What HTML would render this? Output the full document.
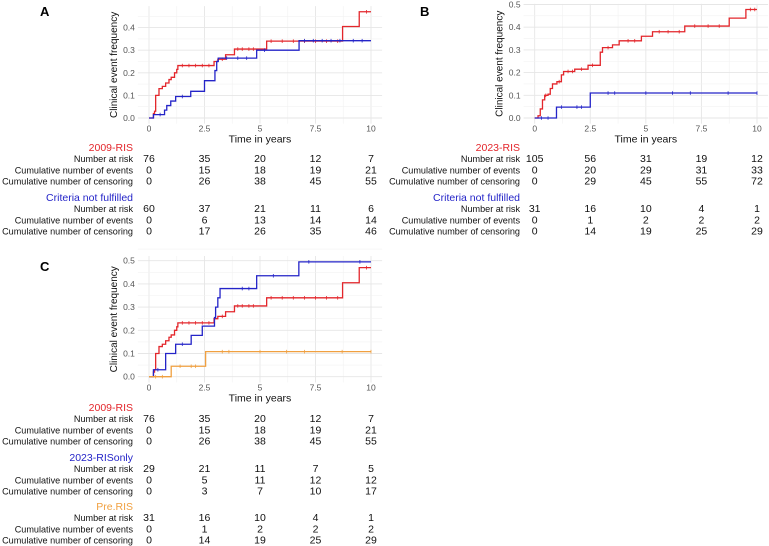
<!DOCTYPE html>
<html><head><meta charset="utf-8">
<style>
html,body{margin:0;padding:0;background:#fff;}
svg{display:block;font-family:"Liberation Sans",Arial,sans-serif;}
</style></head>
<body>
<svg id="fig" width="769" height="546" viewBox="0 0 769 546" xmlns="http://www.w3.org/2000/svg"></svg>
<script>
// ---- data ----
var xTicks = [0, 2.5, 5, 7.5, 10];
var xTickLabels = ["0", "2.5", "5", "7.5", "10"];
var yTicksA = [0, 0.1, 0.2, 0.3, 0.4];
var yTicksB = [0, 0.1, 0.2, 0.3, 0.4, 0.5];
var yTicksC = [0, 0.1, 0.2, 0.3, 0.4, 0.5];

var ris2009T = [0,0.2,0.25,0.3,0.45,0.6,0.75,0.9,1.0,1.15,1.25,1.3,2.93,3.1,3.45,3.85,5.3,8.72,9.47,10];
var ris2009V = [0,0.02,0.03,0.1,0.13,0.14,0.155,0.17,0.18,0.2,0.215,0.232,0.25,0.26,0.28,0.305,0.34,0.405,0.47,0.47];
var ris2009Cens = [1.5,1.8,2.1,2.4,2.7,3.3,4.0,4.2,4.5,4.7,5.5,6.0,6.5,7.0,7.5,8.0,8.5,9.8];

var notA_T = [0,0.2,0.7,0.8,0.98,1.2,1.88,2.5,2.97,3.05,3.12,4.85,6.76,10];
var notA_V = [0,0.015,0.035,0.055,0.075,0.095,0.118,0.165,0.21,0.25,0.265,0.30,0.342,0.342];
var notACens = [0.5,1.5,3.5,4.0,4.4,5.2,7.0,7.4,7.8,8.2,8.6,9.2,9.6];

var ris2023T = [0,0.15,0.25,0.35,0.45,0.6,0.7,0.8,1.0,1.2,1.3,1.8,2.4,2.95,3.05,3.5,3.8,4.8,5.3,6.75,8.75,9.5,10];
var ris2023V = [0,0.01,0.04,0.08,0.1,0.105,0.13,0.15,0.16,0.19,0.205,0.215,0.232,0.29,0.31,0.322,0.34,0.36,0.38,0.405,0.44,0.478,0.478];
var ris2023Cens = [0.5,1.1,1.5,1.7,2.1,2.6,3.3,4.2,4.5,5.6,6.0,6.5,7.2,7.8,8.3,9.7,9.9];

var notB_T = [0,0.98,2.5,10];
var notB_V = [0,0.048,0.11,0.11];
var notBCens = [0.3,0.6,1.2,1.9,2.1,3.3,3.6,5.0,6.2,7.0,8.7,10];

var risOnlyT = [0,0.2,0.75,1.2,1.9,2.4,2.95,3.0,3.1,3.2,4.85,6.75,10];
var risOnlyV = [0,0.03,0.10,0.14,0.178,0.218,0.255,0.30,0.34,0.38,0.435,0.495,0.495];
var risOnlyCens = [0.4,1.5,4.2,4.5,5.6,7.2,9.5];

var preT = [0,1.0,2.55,10];
var preV = [0,0.045,0.108,0.108];
var preCens = [0.3,0.6,1.4,1.9,2.1,3.3,3.6,5.0,6.2,7.0,8.7,10];

var rowLabels = ["Number at risk","Cumulative number of events","Cumulative number of censoring"];
var tabA1 = [[76,35,20,12,7],[0,15,18,19,21],[0,26,38,45,55]];
var tabA2 = [[60,37,21,11,6],[0,6,13,14,14],[0,17,26,35,46]];
var tabB1 = [[105,56,31,19,12],[0,20,29,31,33],[0,29,45,55,72]];
var tabB2 = [[31,16,10,4,1],[0,1,2,2,2],[0,14,19,25,29]];
var tabC1 = [[76,35,20,12,7],[0,15,18,19,21],[0,26,38,45,55]];
var tabC2 = [[29,21,11,7,5],[0,5,11,12,12],[0,3,7,10,17]];
var tabC3 = [[31,16,10,4,1],[0,1,2,2,2],[0,14,19,25,29]];

var RED = "#e3262b", BLUE = "#2424c8", ORANGE = "#f0a040";
var svg = document.getElementById('fig');
var NS = "http://www.w3.org/2000/svg";
function mk(tag, attrs, parent){
  var e = document.createElementNS(NS, tag);
  for (var k in attrs) e.setAttribute(k, attrs[k]);
  (parent||svg).appendChild(e);
  return e;
}
function txt(s, x, y, size, fill, anchor, parent, weight){
  var t = mk('text', {x:x, y:y, 'font-size':size, fill:fill, 'text-anchor':anchor||'start'}, parent);
  if (weight) t.setAttribute('font-weight', weight);
  t.textContent = s;
  return t;
}

function panel(p){
  var g = mk('g', {});
  
  
  var sx = function(t){ return p.x0 + t*(p.x10-p.x0)/10; };
  var sy = function(v){ return p.y0 - v*p.k; };
  var top = sy(p.yMax + 0.025), bot = sy(-0.025);
  var left = sx(-0.5), right = sx(10.5);
  var grid = mk('g', {}, g);
  
  
  for (var i=0;i<xTicks.length;i++){
    mk('line',{x1:sx(xTicks[i]),x2:sx(xTicks[i]),y1:top,y2:bot,stroke:'#e6e6e6','stroke-width':0.9},grid);
    if (i<xTicks.length-1){ var m=(xTicks[i]+xTicks[i+1])/2;
      mk('line',{x1:sx(m),x2:sx(m),y1:top,y2:bot,stroke:'#f2f2f2','stroke-width':0.6},grid);}
  }
  for (var j=0;j<p.yTicks.length;j++){
    mk('line',{x1:left,x2:right,y1:sy(p.yTicks[j]),y2:sy(p.yTicks[j]),stroke:'#e6e6e6','stroke-width':0.9},grid);
    mk('line',{x1:left,x2:right,y1:sy(p.yTicks[j]+0.05),y2:sy(p.yTicks[j]+0.05),stroke:'#f2f2f2','stroke-width':0.6},grid);
    var yl = txt(p.yTicks[j].toFixed(1), left-3, sy(p.yTicks[j])+3, 8.5, '#555', 'end', g);
    
    
  }
  for (var i2=0;i2<xTicks.length;i2++){
    var xl = txt(xTickLabels[i2], sx(xTicks[i2]), bot+8, 8.5, '#555', 'middle', g);
    
    
  }
  var xt = txt('Time in years', sx(5), bot+19, 10.5, '#111', 'middle', g);
  
  
  var ytx = left-21, yty = (top+bot)/2;
  var yt = txt('Clinical event frequency', ytx, yty, 10, '#111', 'middle', g);
  yt.setAttribute('transform','rotate(-90 '+ytx+' '+yty+')');
  
  
  var lab = txt(p.letter, p.lx, p.ly, 13, '#000', 'start', g, 'bold');
  
  
  p.series.forEach(function(s){
    var d = 'M'+sx(s.t[0])+','+sy(s.v[0]);
    for (var i=1;i<s.t.length;i++){
      d += ' H'+sx(s.t[i])+' V'+sy(s.v[i]);
    }
    var path = mk('path',{d:d,fill:'none',stroke:s.color,'stroke-width':1.3},g);
    
    
    s.cens.forEach(function(c){
      var v = 0;
      for (var i=0;i<s.t.length;i++){ if (s.t[i]<=c) v = s.v[i]; }
      var tk = mk('line',{x1:sx(c),x2:sx(c),y1:sy(v)-1.8,y2:sy(v)+1.8,stroke:s.color,'stroke-width':0.8},g);
      
      
    });
  });
  p.tables.forEach(function(tb){
    var h = txt(tb.title, p.labelX, tb.y, 10.5, tb.color, 'end', g);
    
    
    for (var r=0;r<3;r++){
      var ry = tb.y + 11 + r*11.3;
      var rl = txt(rowLabels[r], p.labelX, ry, 9.1, '#111', 'end', g);
      
      
      for (var c=0;c<5;c++){
        var nv = txt(String(tb.data[r][c]), sx(xTicks[c]), ry, 10.5, '#111', 'middle', g);
        
        
      }
    }
  });
}

panel({name:'panel-a', letter:'A', lx:40, ly:16, x0:149, x10:371, y0:118, k:226, yMax:0.47, yTicks:yTicksA, labelX:133,
  series:[{name:'ris-2009',t:ris2009T,v:ris2009V,cens:ris2009Cens,color:RED},
          {name:'criteria-not-fulfilled',t:notA_T,v:notA_V,cens:notACens,color:BLUE}],
  tables:[{title:'2009-RIS',color:RED,y:151,data:tabA1},{title:'Criteria not fulfilled',color:BLUE,y:201,data:tabA2}]});

panel({name:'panel-b', letter:'B', lx:420, ly:16, x0:534.7, x10:757, y0:118, k:227, yMax:0.478, yTicks:yTicksB, labelX:520,
  series:[{name:'ris-2023',t:ris2023T,v:ris2023V,cens:ris2023Cens,color:RED},
          {name:'criteria-not-fulfilled',t:notB_T,v:notB_V,cens:notBCens,color:BLUE}],
  tables:[{title:'2023-RIS',color:RED,y:151,data:tabB1},{title:'Criteria not fulfilled',color:BLUE,y:201,data:tabB2}]});

panel({name:'panel-c', letter:'C', lx:40, ly:271, x0:149, x10:371, y0:376.7, k:232, yMax:0.495, yTicks:yTicksC, labelX:133,
  series:[{name:'ris-2009',t:ris2009T,v:ris2009V,cens:ris2009Cens,color:RED},
          {name:'ris-2023-only',t:risOnlyT,v:risOnlyV,cens:risOnlyCens,color:BLUE},
          {name:'pre-ris',t:preT,v:preV,cens:preCens,color:ORANGE}],
  tables:[{title:'2009-RIS',color:RED,y:411,data:tabC1},{title:'2023-RISonly',color:BLUE,y:461,data:tabC2},{title:'Pre.RIS',color:ORANGE,y:510,data:tabC3}]});
</script>
</body></html>
